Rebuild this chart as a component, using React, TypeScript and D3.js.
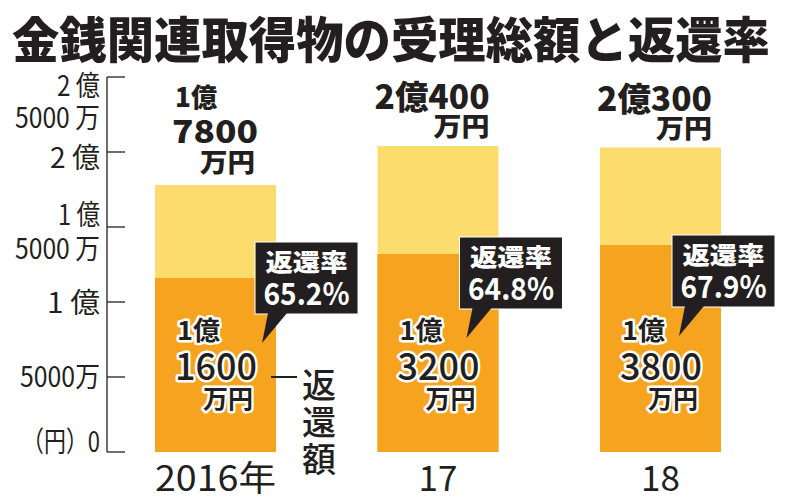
import React from "react";
import * as d3 from "d3";

// ---- data (values in 万円) ----
const categories = ["2016年", "17", "18"];
const totalAmounts = [17800, 20400, 20300];
const returnedAmounts = [11600, 13200, 13800];
const returnRates = ["65.2%", "64.8%", "67.9%"];
const yTickValues = [0, 5000, 10000, 15000, 20000, 25000];
const yTickLabels = [["（円）0"], ["5000万"], ["1 億"], ["1 億", "5000 万"], ["2 億"], ["2 億", "5000 万"]];
const titleText = "金銭関連取得物の受理総額と返還率";
const calloutTitle = "返還率";
const sideLabel = ["返", "還", "額"];

// ---- layout ----
const W = 792;
const H = 500;
const FONT = "'Noto Sans CJK JP', 'Noto Sans CJK SC', sans-serif";
const DARK = "#231f20";
const YELLOW = "#fddc6e";
const ORANGE = "#f6a420";
// baseline offsets / widths of each tick label line relative to the tick
const tickLabelDy = [[0], [10], [11], [-2, 32], [16], [19, 51]];
const tickLabelW = [[78], [80], [53], [42, 85], [50], [43, 85]];
// callout box offsets relative to bar right edge / return top
const calloutDx = [-21, -39, -49];
const calloutDy = [-36, -17, -10];

function splitAmount(v: number): string[] {
  const oku = Math.floor(v / 10000);
  const man = v % 10000;
  if (oku === 0) return [`${man}`, "万円"];
  if (String(man).length >= 4) return [`${oku}億`, `${man}`, "万円"];
  return [`${oku}億${man}`, "万円"];
}

export default function App() {
  const y = d3.scaleLinear().domain([0, 25000]).range([452, 77]);
  const x = d3
    .scaleBand<string>()
    .domain(categories)
    .range([155, 721])
    .paddingInner(0.456)
    .paddingOuter(0);
  const bw = x.bandwidth();
  const axisX = 107;

  return (
    <svg
      width={W}
      height={H}
      viewBox={`0 0 ${W} ${H}`}
      style={{ position: "absolute", left: 0, top: 0, background: "#fff" }}
      fontFamily={FONT}
    >
      <rect width={W} height={H} fill="#fff" />
      {/* title */}
      <text
        x={12}
        y={58}
        fontSize={49}
        fontWeight={900}
        fill={DARK}
        textLength={758}
        lengthAdjust="spacingAndGlyphs"
      >
        {titleText}
      </text>

      {/* y axis */}
      <line x1={axisX} x2={axisX} y1={y(25000)} y2={y(0)} stroke={DARK} strokeWidth={1.3} />
      {yTickValues.map((v, i) => (
        <g key={v}>
          <line x1={axisX} x2={125} y1={y(v)} y2={y(v)} stroke={DARK} strokeWidth={1.3} />
          {yTickLabels[i].map((t, j) => (
            <text
              key={j}
              x={100}
              y={y(v) + tickLabelDy[i][j]}
              textAnchor="end"
              fontSize={28}
              fill={DARK}
              textLength={tickLabelW[i][j]}
              lengthAdjust="spacingAndGlyphs"
            >
              {t}
            </text>
          ))}
        </g>
      ))}

      {/* bars */}
      {categories.map((c, i) => {
        const x0 = x(c)!;
        return (
          <g key={c}>
            <rect x={x0} y={y(totalAmounts[i])} width={bw} height={y(0) - y(totalAmounts[i])} fill={YELLOW} />
            <rect x={x0} y={y(returnedAmounts[i])} width={bw} height={y(0) - y(returnedAmounts[i])} fill={ORANGE} />
          </g>
        );
      })}

      {/* total labels above bars */}
      {categories.map((c, i) => {
        const x0 = x(c)!;
        const lines = splitAmount(totalAmounts[i]);
        const top = y(totalAmounts[i]);
        if (lines.length === 3) {
          return (
            <g key={c} fill={DARK} fontWeight={900}>
              <text x={x0 + 20} y={top - 78} fontSize={26} textLength={42} lengthAdjust="spacingAndGlyphs">
                {lines[0]}
              </text>
              <text x={x0 + 17} y={top - 42} fontSize={31} textLength={86} lengthAdjust="spacingAndGlyphs">
                {lines[1]}
              </text>
              <text x={x0 + 100} y={top - 13} fontSize={26} textAnchor="end" textLength={55} lengthAdjust="spacingAndGlyphs">
                {lines[2]}
              </text>
            </g>
          );
        }
        return (
          <g key={c} fill={DARK} fontWeight={900}>
            <text x={x0 + bw - 9} y={top - 37} fontSize={33} textAnchor="end" textLength={115} lengthAdjust="spacingAndGlyphs">
              {lines[0]}
            </text>
            <text x={x0 + bw - 9} y={top - 10} fontSize={26} textAnchor="end" textLength={56} lengthAdjust="spacingAndGlyphs">
              {lines[1]}
            </text>
          </g>
        );
      })}

      {/* returned labels inside bars */}
      {categories.map((c, i) => {
        const x0 = x(c)!;
        const lines = splitAmount(returnedAmounts[i]);
        const halo = { stroke: "#fff", strokeWidth: 5, paintOrder: "stroke", strokeLinejoin: "round" as const };
        return (
          <g key={c} fill={DARK}>
            <text x={x0 + 22} y={340} fontSize={26} fontWeight={700} {...halo} textLength={43} lengthAdjust="spacingAndGlyphs">
              {lines[0]}
            </text>
            <text x={x0 + 20} y={380} fontSize={37} fontWeight={500} {...halo} textLength={82} lengthAdjust="spacingAndGlyphs">
              {lines[1]}
            </text>
            <text x={x0 + 98} y={408} fontSize={25} fontWeight={700} textAnchor="end" {...halo} textLength={50} lengthAdjust="spacingAndGlyphs">
              {lines[2]}
            </text>
          </g>
        );
      })}

      {/* callouts */}
      {categories.map((c, i) => {
        const bx = x(c)! + bw + calloutDx[i];
        const by = y(returnedAmounts[i]) + calloutDy[i];
        const bwid = 103;
        const bh = 72;
        const pointer = `M${bx + 13},${by + bh - 1} L${bx + 7},${by + bh + 29} L${bx + 32},${by + bh - 1} Z`;
        return (
          <g key={c}>
            <rect x={bx} y={by} width={bwid} height={bh} fill={DARK} stroke="#fff" strokeWidth={1} />
            <path d={pointer} fill={DARK} />
            <text
              x={bx + bwid / 2}
              y={by + 29}
              textAnchor="middle"
              fontSize={24}
              fontWeight={900}
              fill="#fff"
              textLength={82}
              lengthAdjust="spacingAndGlyphs"
            >
              {calloutTitle}
            </text>
            <text
              x={bx + bwid / 2}
              y={by + 63}
              textAnchor="middle"
              fontSize={31}
              fontWeight={700}
              fill="#fff"
              textLength={86}
              lengthAdjust="spacingAndGlyphs"
            >
              {returnRates[i]}
            </text>
          </g>
        );
      })}

      {/* side label 返還額 */}
      <line x1={271} x2={297} y1={y(5000)} y2={y(5000)} stroke={DARK} strokeWidth={2} />
      {sideLabel.map((ch, k) => (
        <text key={ch} x={319} y={398 + k * 37} textAnchor="middle" fontSize={34} fontWeight={500} fill={DARK}>
          {ch}
        </text>
      ))}

      {/* x labels */}
      {categories.map((c, i) => (
        <text
          key={c}
          x={x(c)! + bw / 2}
          y={491}
          textAnchor="middle"
          fontSize={35}
          fill={DARK}
          {...(i === 0 ? { textLength: 121, lengthAdjust: "spacingAndGlyphs" } : {})}
        >
          {c}
        </text>
      ))}
    </svg>
  );
}
